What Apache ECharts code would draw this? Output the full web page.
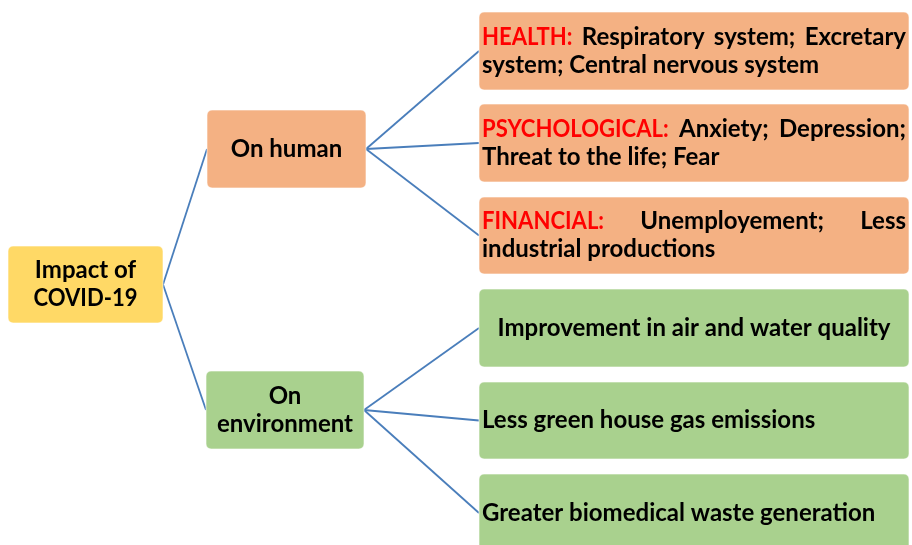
<!DOCTYPE html>
<html>
<head>
<meta charset="utf-8">
<script src="https://cdn.jsdelivr.net/npm/echarts@6/dist/echarts.min.js"></script>
<style>
  html, body { margin: 0; padding: 0; background: #fff; }
  #main { width: 912px; height: 545px; }
</style>
</head>
<body>
<div id="main"></div>
<script>
// texts of the diagram
const rootLabel = ['Impact of', 'COVID-19'];
const branchLabels = [['On human'], ['On', 'environment']];
const humanHeads = ['HEALTH:', 'PSYCHOLOGICAL:', 'FINANCIAL:'];
const humanLines = [
  ['Respiratory system; Excretary', 'system; Central nervous system'],
  ['Anxiety; Depression;', 'Threat to the life; Fear'],
  ['Unemployement; Less', 'industrial productions']
];
const envLabels = [
  'Improvement in air and water quality',
  'Less green house gas emissions',
  'Greater biomedical waste generation'
];
// parent -> child
const edges = [[0, 1], [0, 2], [1, 3], [1, 4], [1, 5], [2, 6], [2, 7], [2, 8]];

// layout (pixel units of the hidden axes)
const boxes = [
  [8, 246, 163, 323],
  [207, 110, 366, 188],
  [206, 371, 364, 449],
  [479, 12, 909, 90],
  [479, 104, 909, 182],
  [479, 197, 909, 274],
  [479, 289, 909, 367],
  [479, 382, 909, 459],
  [479, 474, 909, 552]
];

const YELLOW = '#FFD966', ORANGE = '#F4B183', GREEN = '#A9D18E';
const RED = '#FF0000', INK = '#000000', LINE = '#4A7EBB';
const FONT_SIZE = 24, FONT_FAMILY = 'Lato';
const FONT = 'bold ' + FONT_SIZE + 'px ' + FONT_FAMILY;
const LINE_GAP = 28;
const CAPS_SCALE = 0.92; // Lato capitals run wider than the original face

// build nodes
const nodes = [];
nodes.push({ fill: YELLOW, align: 'center', lines: rootLabel.map(t => ({ segs: [[t, INK]] })) });
branchLabels.forEach((l, i) => {
  nodes.push({ fill: i === 0 ? ORANGE : GREEN, align: 'center', lines: l.map(t => ({ segs: [[t, INK]] })) });
});
humanHeads.forEach((h, i) => {
  nodes.push({
    fill: ORANGE, align: 'left',
    lines: [
      { segs: [[h, RED], [humanLines[i][0], INK]], justify: true },
      { segs: [[humanLines[i][1], INK]] }
    ]
  });
});
envLabels.forEach((t, i) => {
  nodes.push({ fill: GREEN, align: i === 0 ? 'center' : 'left', lines: [{ segs: [[t, INK]] }] });
});

const measureCtx = document.createElement('canvas').getContext('2d');
function isCaps(t) {
  return t === t.toUpperCase() && /[A-Z]{3}/.test(t);
}
function textScale(t) {
  return isCaps(t) ? CAPS_SCALE : 1;
}
function textWidth(t) {
  measureCtx.font = FONT;
  return measureCtx.measureText(t).width * textScale(t);
}

const boxData = boxes.map((b, i) => [b[0], b[1], b[2], b[3], i]);

function textEl(t, x, y, fill, align) {
  const s = textScale(t);
  return {
    type: 'text', x: x, y: y, scaleX: s,
    style: { text: t, x: 0, y: 0, fill: fill, font: FONT, align: align, verticalAlign: 'middle' }
  };
}

function renderBox(params, api) {
  const idx = api.value(4);
  const node = nodes[idx];
  const p0 = api.coord([api.value(0), api.value(1)]);
  const p1 = api.coord([api.value(2), api.value(3)]);
  const x0 = p0[0], y0 = p0[1], w = p1[0] - p0[0], h = p1[1] - p0[1];
  const children = [{
    type: 'rect',
    shape: { x: x0, y: y0, width: w, height: h, r: 5 },
    style: { fill: node.fill, stroke: 'rgba(255,255,255,0.6)', lineWidth: 1 }
  }];
  const pad = 3;
  const cy = y0 + h / 2;
  const n = node.lines.length;
  node.lines.forEach((line, li) => {
    const y = cy + (li - (n - 1) / 2) * LINE_GAP;
    if (line.justify) {
      const words = [];
      line.segs.forEach(s => s[0].split(' ').forEach(wd => words.push([wd, s[1]])));
      const widths = words.map(wd => textWidth(wd[0]));
      const total = widths.reduce((a, b) => a + b, 0);
      const gap = (w - 2 * pad - total) / (words.length - 1);
      let x = x0 + pad;
      words.forEach((wd, k) => {
        children.push(textEl(wd[0], x, y, wd[1], 'left'));
        x += widths[k] + gap;
      });
    } else {
      const text = line.segs.map(s => s[0]).join(' ');
      const centered = node.align === 'center';
      children.push(textEl(text, centered ? x0 + w / 2 : x0 + pad, y, line.segs[0][1], centered ? 'center' : 'left'));
    }
  });
  return { type: 'group', children: children };
}

// connectors: right middle of parent to left middle of child
const edgeData = edges.map(e => {
  const a = boxes[e[0]], b = boxes[e[1]];
  return { coords: [[a[2], (a[1] + a[3]) / 2], [b[0], (b[1] + b[3]) / 2]] };
});

const chart = echarts.init(document.getElementById('main'));
chart.setOption({
  backgroundColor: '#ffffff',
  animation: false,
  grid: { left: 0, right: 0, top: 0, bottom: 0 },
  xAxis: { type: 'value', min: 0, max: 912, show: false },
  yAxis: { type: 'value', min: 0, max: 545, inverse: true, show: false },
  series: [
    {
      type: 'lines',
      coordinateSystem: 'cartesian2d',
      z: 1,
      lineStyle: { color: LINE, width: 1.8, opacity: 1 },
      data: edgeData
    },
    {
      type: 'custom',
      z: 2,
      clip: true,
      renderItem: renderBox,
      data: boxData
    }
  ]
});
</script>
</body>
</html>
